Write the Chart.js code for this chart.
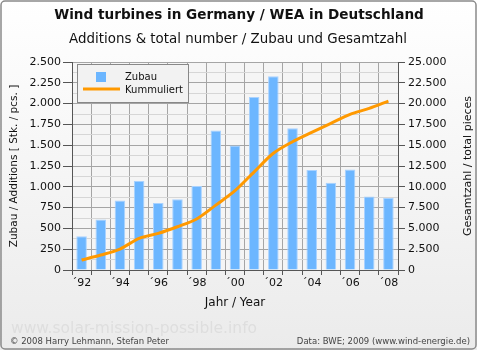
<!DOCTYPE html>
<html>
<head>
<meta charset="utf-8">
<script src="https://cdn.jsdelivr.net/npm/chart.js@4/dist/chart.umd.min.js"></script>
<style>
    html, body { margin: 0; padding: 0; background: #fff; }
    #wrap { width: 477px; height: 350px; }
</style>
</head>
<body>
<div id="wrap"><canvas id="windChart" width="477" height="350"></canvas></div>
<script>
// Data (BWE 2009)
const years = ['1992', '1993', '1994', '1995', '1996', '1997', '1998', '1999', '2000',
    '2001', '2002', '2003', '2004', '2005', '2006', '2007', '2008'];
const yearTicks = ['\u00b492', '', '\u00b494', '', '\u00b496', '', '\u00b498', '', '\u00b400',
    '', '\u00b402', '', '\u00b404', '', '\u00b406', '', '\u00b408'];
const additions = [405, 608, 834, 1070, 804, 849, 1010, 1676, 1495, 2079, 2328, 1703, 1201, 1049, 1208, 883, 866];
const cumulative = [1200, 1800, 2520, 3800, 4400, 5200, 6130, 7800, 9530, 11800, 14030, 15420, 16550, 17630, 18710, 19430, 20300];

const FONT = "'DejaVu Sans', sans-serif";

function fmt(v) {
    return String(v).replace(/\B(?=(\d{3})+(?!\d))/g, '.');
}

// Background, frame, titles, legend and footer
const decor = {
    id: 'decor',
    beforeDraw(chart) {
        const ctx = chart.ctx;
        const a = chart.chartArea;
        ctx.save();
        const g = ctx.createLinearGradient(0, 0, 0, 350);
        g.addColorStop(0, '#ffffff');
        g.addColorStop(1, '#ebebeb');
        ctx.fillStyle = g;
        ctx.fillRect(0, 0, 477, 350);
        ctx.fillStyle = '#f5f5f5';
        ctx.fillRect(a.left, a.top, a.right - a.left, a.bottom - a.top);
        ctx.restore();
    },
    afterDraw(chart) {
        const ctx = chart.ctx;
        const a = chart.chartArea;
        ctx.save();

        // frame
        ctx.strokeStyle = '#8a8a8a';
        ctx.lineWidth = 1.5;
        ctx.beginPath();
        ctx.roundRect(1, 1, 475, 348, 4);
        ctx.stroke();

        ctx.textBaseline = 'middle';
        ctx.textAlign = 'center';
        ctx.fillStyle = '#111';
        ctx.font = 'bold 13.6px ' + FONT;
        ctx.fillText('Wind turbines in Germany / WEA in Deutschland', 239, 15);
        ctx.font = '13.4px ' + FONT;
        ctx.fillText('Additions & total number / Zubau und Gesamtzahl', 238, 40);

        // axis titles
        ctx.font = '12px ' + FONT;
        ctx.fillText('Jahr / Year', 235, 303);
        ctx.font = '10.5px ' + FONT;
        ctx.save();
        ctx.translate(14, (a.top + a.bottom) / 2);
        ctx.rotate(-Math.PI / 2);
        ctx.fillText('Zubau / Additions [ Stk. / pcs. ]', 0, 0);
        ctx.restore();
        ctx.font = '11px ' + FONT;
        ctx.save();
        ctx.translate(468, (a.top + a.bottom) / 2);
        ctx.rotate(-Math.PI / 2);
        ctx.fillText('Gesamtzahl / total pieces', 0, 0);
        ctx.restore();

        // legend
        ctx.fillStyle = '#f2f2f2';
        ctx.fillRect(77, 64, 111, 38);
        ctx.strokeStyle = '#888';
        ctx.lineWidth = 1;
        ctx.strokeRect(77.5, 64.5, 111, 38);
        ctx.fillStyle = '#6cb6ff';
        ctx.fillRect(96, 72, 10, 10);
        ctx.strokeStyle = '#ff9900';
        ctx.lineWidth = 3;
        ctx.beginPath();
        ctx.moveTo(83, 89);
        ctx.lineTo(120, 89);
        ctx.stroke();
        ctx.fillStyle = '#111';
        ctx.textAlign = 'left';
        ctx.font = '10px ' + FONT;
        ctx.fillText('Zubau', 125, 77);
        ctx.fillText('Kummuliert', 125, 90);

        // footer
        ctx.fillStyle = '#dedede';
        ctx.font = '15.5px ' + FONT;
        ctx.fillText('www.solar-mission-possible.info', 11, 329);
        ctx.fillStyle = '#444';
        ctx.font = '8.5px ' + FONT;
        ctx.fillText('\u00a9 2008 Harry Lehmann, Stefan Peter', 10, 342);
        ctx.textAlign = 'right';
        ctx.fillText('Data: BWE; 2009 (www.wind-energie.de)', 470, 342);
        ctx.restore();
    }
};

const ctx1 = document.getElementById('windChart').getContext('2d');
const windChart = new Chart(ctx1, {
    type: 'bar',
    data: {
        labels: years,
        datasets: [
            {
                type: 'line',
                label: 'Kummuliert',
                data: cumulative,
                yAxisID: 'y2',
                borderColor: '#ff9900',
                borderWidth: 3,
                pointRadius: 0,
                tension: 0.3,
                fill: false,
                order: 0
            },
            {
                type: 'bar',
                label: 'Zubau',
                data: additions,
                yAxisID: 'y',
                backgroundColor: '#6cb6ff',
                borderColor: '#a9d2ff',
                borderWidth: 1,
                barPercentage: 0.55,
                categoryPercentage: 1,
                order: 1
            }
        ]
    },
    options: {
        responsive: false,
        animation: false,
        layout: {
            padding: { top: 62, left: 0, right: 0, bottom: 0 }
        },
        plugins: {
            legend: { display: false },
            title: { display: false },
            tooltip: { enabled: false }
        },
        scales: {
            x: {
                offset: true,
                grid: {
                    offset: true,
                    color: '#a5a5a5',
                    tickColor: '#555',
                    tickLength: 5
                },
                border: { color: '#555' },
                ticks: {
                    autoSkip: false,
                    maxRotation: 0,
                    padding: 2,
                    color: '#111',
                    font: { family: FONT, size: 11 },
                    callback: function(value, index) {
                        return yearTicks[index];
                    }
                },
                afterFit: function(scale) {
                    scale.height = 80;
                }
            },
            y: {
                position: 'left',
                min: 0,
                max: 2500,
                grid: {
                    color: function(c) {
                        return c.tick && c.tick.value % 250 === 0 ? '#a5a5a5' : '#d6d6d6';
                    },
                    tickColor: function(c) {
                        return c.tick && c.tick.value % 250 === 0 ? '#555' : 'rgba(0,0,0,0)';
                    },
                    tickLength: 9
                },
                border: { color: '#555' },
                ticks: {
                    stepSize: 125,
                    autoSkip: false,
                    padding: 2,
                    color: '#111',
                    font: { family: FONT, size: 11 },
                    callback: function(value) {
                        return value % 250 === 0 ? fmt(value) : '';
                    }
                },
                afterFit: function(scale) {
                    scale.width = 72;
                }
            },
            y2: {
                position: 'right',
                min: 0,
                max: 25000,
                grid: {
                    drawOnChartArea: false,
                    tickColor: '#555',
                    tickLength: 7
                },
                border: { color: '#555' },
                ticks: {
                    stepSize: 2500,
                    autoSkip: false,
                    padding: 3,
                    color: '#111',
                    font: { family: FONT, size: 11 },
                    callback: function(value) {
                        return fmt(value);
                    }
                },
                afterFit: function(scale) {
                    scale.width = 79;
                }
            }
        }
    },
    plugins: [decor]
});
</script>
</body>
</html>
